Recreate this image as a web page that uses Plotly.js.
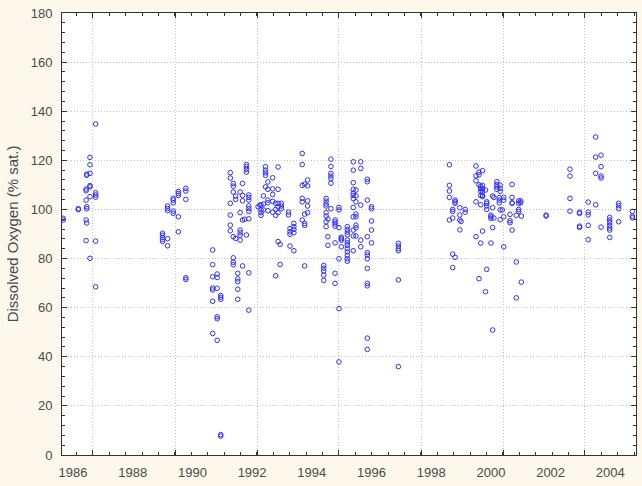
<!DOCTYPE html>
<html>
<head>
<meta charset="utf-8">
<script src="https://cdn.plot.ly/plotly-3.0.1.min.js"></script>
<style>
  html, body { margin: 0; padding: 0; background: #FCF8EB; }
  #chart { width: 642px; height: 486px; }
</style>
</head>
<body>
<div id="chart"></div>
<script>
// Sampling dates (decimal years) and dissolved-oxygen readings (% sat.) taken on each
const sampleDates = [
  1985.67, 1986.18, 1986.44, 1986.46, 1986.57, 1986.76,
  1989.00, 1989.17, 1989.36, 1989.53, 1989.78,
  1990.68, 1990.83, 1990.95,
  1991.27, 1991.37, 1991.45, 1991.52, 1991.60, 1991.68, 1991.75, 1991.81, 1991.89,
  1992.20, 1992.26, 1992.30, 1992.38, 1992.45, 1992.53, 1992.69, 1992.79, 1992.87, 1992.94, 1992.98,
  1993.22, 1993.27, 1993.40, 1993.68, 1993.76, 1993.86,
  1994.40, 1994.48, 1994.54, 1994.64, 1994.78, 1994.91, 1994.99,
  1995.19, 1995.39, 1995.48, 1995.64, 1995.86, 1996.00, 1996.90,
  1998.61, 1998.72, 1998.80, 1998.96, 1999.00, 1999.14,
  1999.50, 1999.60, 1999.66, 1999.72, 1999.82, 1999.86,
  2000.00, 2000.06, 2000.10, 2000.20, 2000.28, 2000.31, 2000.38, 2000.43,
  2000.64, 2000.71, 2000.85, 2000.93, 2001.00, 2001.02,
  2001.85, 2002.65, 2002.97, 2003.26, 2003.51, 2003.69, 2003.98, 2004.28, 2004.74
];
const oxygenReadings = [
  [96.4, 95.7], [100.3, 99.9], [108.3, 107.6, 103.8, 95.7, 87.3], [101.1, 100.3, 94.5, 114.4, 113.9],
  [121.2, 118.2, 114.7, 109.7, 109.2, 105.2, 80.1], [134.8, 106.8, 105.9, 105.0, 87.1, 68.5],
  [90.3, 89.5, 88.6, 87.8, 87.0], [101.4, 100.4, 99.5, 88.1, 85.2], [104.5, 103.8, 102.7, 99.3, 98.4],
  [107.3, 106.5, 105.7, 97.0, 90.9], [108.6, 107.5, 104.1, 72.2, 71.5],
  [83.5, 77.5, 72.6, 68.0, 67.2, 62.6, 49.5], [73.7, 72.3, 67.9, 56.3, 55.5, 46.7], [65.0, 64.2, 63.4, 8.3, 7.7],
  [115.0, 112.8, 102.5, 97.7, 93.6, 91.3], [110.6, 109.5, 107.1, 88.9, 80.3, 78.5, 77.5], [105.4, 104.1, 88.2],
  [74.0, 71.7, 70.6, 67.5, 63.4], [87.5, 98.7, 107.1, 91.6, 90.5, 89.5], [110.6, 105.7, 103.5, 95.7, 77.0],
  [96.0], [118.3, 117.4, 116.3, 115.2, 89.6], [96.2, 105.9, 104.9, 103.8, 101.4, 100.3, 99.2, 74.2, 59.0],
  [101.1], [101.7], [101.9, 99.8, 98.7, 97.6], [102.2, 99.8, 105.5], [117.4, 116.0, 114.9, 113.9, 109.2],
  [111.2, 108.2, 103.8, 102.7, 99.5], [112.9, 108.4, 106.1, 103.3, 98.9], [102.5, 100.0, 97.6, 73.0],
  [117.3, 108.2, 102.5, 101.1, 98.7, 86.9], [85.8, 77.6], [102.5, 101.4, 100.3],
  [98.9, 97.8], [92.2, 90.9, 89.9, 85.1], [94.3, 93.0, 91.9, 90.5, 83.2],
  [122.8, 118.3, 109.8, 104.5, 103.1, 95.7], [110.3, 98.1, 94.3, 93.5, 77.0], [112.0, 109.6, 103.5, 101.4, 98.7],
  [77.2, 76.1, 74.9, 73.3, 71.1], [104.5, 103.4, 102.2, 101.4, 98.7, 97.3, 95.0, 93.0], [88.9, 85.4, 96.1],
  [120.5, 117.5, 114.7, 113.6, 112.5, 110.7, 100.3], [95.7, 94.9, 94.1, 93.2, 86.4, 74.0, 69.9],
  [100.8, 99.8, 92.6, 79.9, 59.6, 37.9], [88.7, 88.1, 87.5, 84.8],
  [93.0, 91.9, 90.8, 89.7, 87.5, 86.4, 85.4, 84.0, 82.7, 81.3, 79.9, 78.9],
  [119.4, 116.0, 110.9, 108.2, 106.6, 105.7, 104.4, 100.8, 97.0, 91.6, 89.2, 83.2],
  [107.9, 105.5, 103.1, 98.1, 97.0, 93.6, 92.5, 89.2], [119.4, 116.7, 101.8, 87.5, 84.8],
  [112.3, 111.3, 103.8, 88.9, 82.4, 81.4, 79.9, 76.0, 69.9, 68.9, 47.6, 43.0],
  [101.1, 100.3, 95.3, 91.6, 86.4], [86.2, 85.1, 84.0, 83.2, 71.3, 36.0],
  [118.2, 109.8, 107.5, 104.9, 95.7], [100.0, 99.2, 96.5, 81.8, 76.3], [103.8, 103.1, 102.5, 80.5],
  [100.7, 97.7, 95.7, 91.7], [95.1], [100.0, 98.9],
  [117.7, 113.7, 111.7, 103.1, 88.9], [115.2, 114.1, 110.0, 71.8], [109.5, 108.4, 107.4, 105.7, 101.9, 86.3],
  [115.8, 109.8, 108.4, 107.4, 105.7, 105.2, 91.2], [107.9, 66.5], [103.1, 102.5, 101.4, 100.0, 75.6],
  [97.7, 97.0, 96.4, 86.3], [105.5, 100.7, 92.6, 50.9], [104.9, 96.5], [111.3, 110.2, 109.2, 108.2],
  [104.8, 103.8, 102.7], [109.9, 108.6, 107.4, 99.8, 95.8], [99.8], [104.9, 103.8, 97.0, 84.8],
  [98.0, 95.4, 94.6], [110.2, 104.9, 102.7, 102.5, 91.6], [97.6, 78.6, 64.0], [103.5, 102.5, 100.0, 99.2],
  [103.5, 102.7], [97.3, 70.4],
  [97.7, 97.3], [116.4, 113.6, 104.5, 99.3], [98.9, 98.4, 93.2, 92.7], [103.0, 98.9, 97.8, 93.5, 87.7],
  [121.3, 114.7, 101.9, 129.5], [122.1, 117.4, 113.6, 112.8, 92.8],
  [96.8, 95.7, 94.6, 93.5, 92.4, 91.6, 88.6], [102.5, 101.5, 100.3, 95.0], [99.2, 97.3, 96.6]
];
const yearTickValues = [1986, 1988, 1990, 1992, 1994, 1996, 1998, 2000, 2002, 2004];
const yearTickLabels = ["1986", "1988", "1990", "1992", "1994", "1996", "1998", "2000", "2002", "2004"];
const gridTickValues = [1986.67, 1989.42, 1992.17, 1994.91, 1997.66, 2000.41, 2003.15];
const yTickValues = [0, 20, 40, 60, 80, 100, 120, 140, 160, 180];

const xs = [], ys = [];
sampleDates.forEach((d, i) => oxygenReadings[i].forEach(v => { xs.push(d); ys.push(v); }));

const xRange = [1985.632, 2004.861];
const fontFam = 'Liberation Sans, Arial, sans-serif';

const traces = [
  {
    type: 'scatter', mode: 'markers', x: xs, y: ys, xaxis: 'x', yaxis: 'y',
    marker: { symbol: 'circle-open', size: 4.6, color: '#2f2fff', line: { width: 1, color: '#2f2fff' } },
    showlegend: false, hoverinfo: 'x+y'
  },
  { type: 'scatter', mode: 'markers', x: [], y: [], xaxis: 'x2', yaxis: 'y', showlegend: false }
];

const layout = {
  width: 642, height: 486,
  paper_bgcolor: '#FCF8EB', plot_bgcolor: '#FFFFFF',
  margin: { l: 62, r: 6, t: 13, b: 31, pad: 0 },
  showlegend: false,
  xaxis: {
    range: xRange, tickmode: 'array', tickvals: gridTickValues, showticklabels: false,
    ticks: 'inside', ticklen: 5, tickcolor: '#333', tickwidth: 1,
    showgrid: true, gridcolor: '#c4c4c4', griddash: '1px,2px', gridwidth: 1,
    showline: true, linecolor: '#333', linewidth: 1, mirror: 'ticks', zeroline: false,
    minor: { tickmode: 'linear', tick0: 1986.67, dtick: 0.5493, ticks: 'inside', ticklen: 3, tickcolor: '#333', showgrid: false }
  },
  xaxis2: {
    overlaying: 'x', anchor: 'y', side: 'bottom', range: xRange,
    tickmode: 'array', tickvals: yearTickValues, ticktext: yearTickLabels,
    ticks: '', showgrid: false, showline: false, zeroline: false,
    ticklabelstandoff: 8,
    tickfont: { family: fontFam, size: 13, color: '#4a4a4a' }
  },
  yaxis: {
    range: [0, 180], tickmode: 'array', tickvals: yTickValues,
    ticks: 'inside', ticklen: 5, tickcolor: '#333', tickwidth: 1,
    showgrid: true, gridcolor: '#c4c4c4', griddash: '1px,2px', gridwidth: 1,
    showline: true, linecolor: '#333', linewidth: 1, mirror: 'ticks', zeroline: false,
    minor: { tickmode: 'linear', tick0: 0, dtick: 4, ticks: 'inside', ticklen: 3, tickcolor: '#333', showgrid: false },
    ticklabelstandoff: 6,
    tickfont: { family: fontFam, size: 13, color: '#4a4a4a' },
    title: { text: 'Dissolved Oxygen (% sat.)', font: { family: fontFam, size: 15, color: '#4a4a4a' }, standoff: 8 }
  }
};

Plotly.newPlot('chart', traces, layout, { displayModeBar: false, staticPlot: true });
</script>
</body>
</html>
